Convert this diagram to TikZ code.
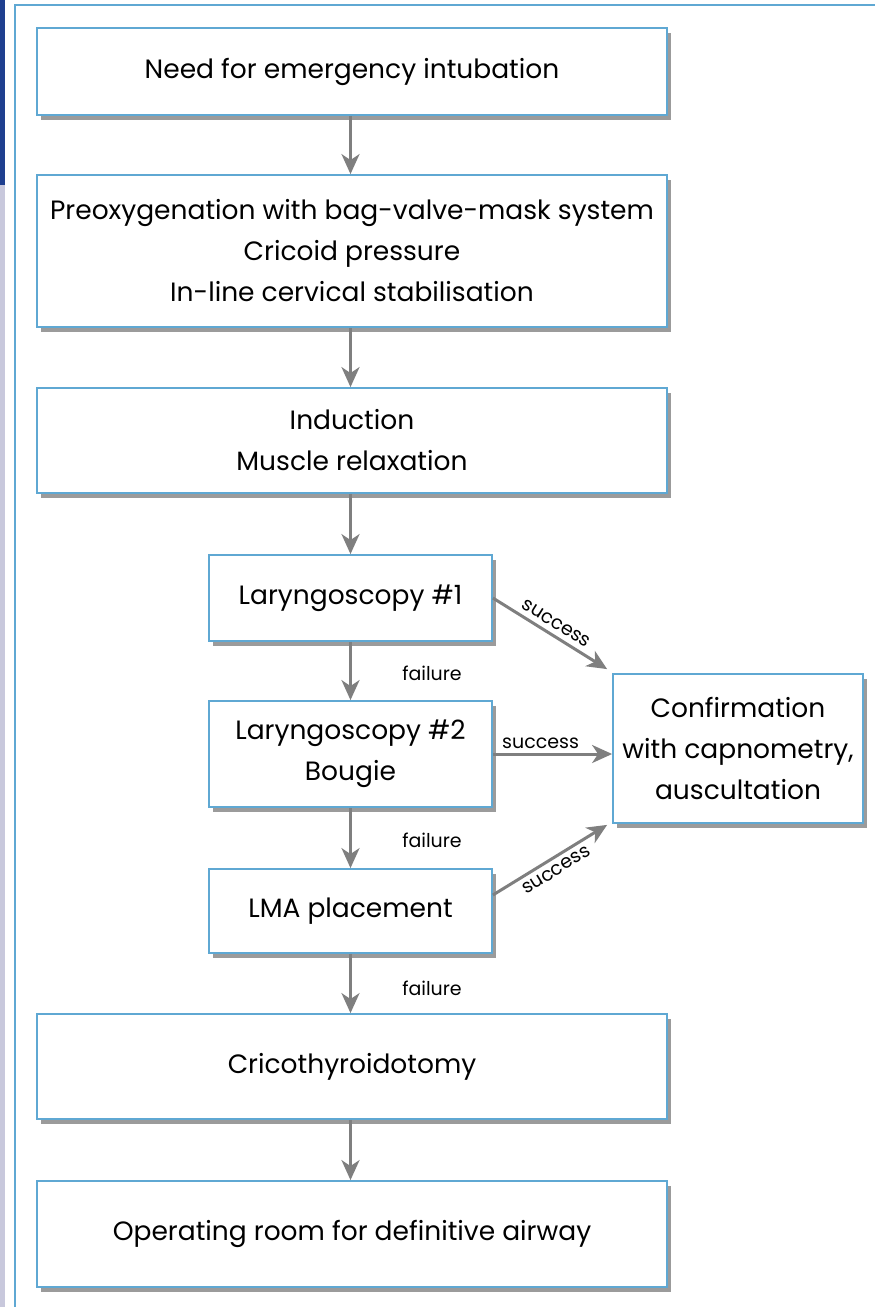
\documentclass[tikz,border=0pt]{standalone}
\usepackage{fontspec}
\setmainfont{Poppins}
\usetikzlibrary{arrows.meta,shadows}
\definecolor{boxblue}{HTML}{5FA8D3}
\definecolor{arrgray}{HTML}{7F7F7F}
\definecolor{stripblue}{HTML}{1F3F8F}
\definecolor{lav}{HTML}{C8C8DC}
\tikzset{
  box/.style={draw=boxblue, line width=1.8pt, fill=white, align=center, inner sep=0pt,
    drop shadow={shadow xshift=4pt, shadow yshift=-5pt, opacity=0.6, fill=black!65},
    font=\fontsize{26.5}{41}\selectfont},
  flow/.style={draw=arrgray, line width=3pt, -{Stealth[length=20pt,width=18pt,inset=6pt]}},
  lbl/.style={font=\fontsize{19}{21}\selectfont, inner sep=2pt}
}
\begin{document}
\begin{tikzpicture}[x=1pt,y=-1pt]
\useasboundingbox (0,0) rectangle (875,1307);
\fill[stripblue] (0,0) rectangle (5,185);
\fill[lav] (0,185) rectangle (5,1307);
\draw[boxblue, line width=2pt] (15,1307) -- (15,5) -- (875,5);

\node[box, minimum width=630pt, minimum height=87pt] (n1) at (352,71.5) {Need for emergency intubation};
\node[box, minimum width=630pt, minimum height=152pt] (n2) at (352,251) {Preoxygenation with bag-valve-mask system\\Cricoid pressure\\In-line cervical stabilisation};
\node[box, minimum width=630pt, minimum height=105pt] (n3) at (352,440.5) {Induction\\Muscle relaxation};
\node[box, minimum width=283pt, minimum height=86pt] (n4) at (350.5,598) {Laryngoscopy \#1};
\node[box, minimum width=283pt, minimum height=106pt] (n5) at (350.5,754) {Laryngoscopy \#2\\Bougie};
\node[box, minimum width=283pt, minimum height=84pt] (n6) at (350.5,911) {LMA placement};
\node[box, minimum width=630pt, minimum height=105pt] (n7) at (352,1066.5) {Cricothyroidotomy};
\node[box, minimum width=630pt, minimum height=106pt] (n8) at (352,1234) {Operating room for definitive airway};
\node[box, minimum width=250pt, minimum height=149pt] (conf) at (738,748.5) {Confirmation\\with capnometry,\\auscultation};

\draw[flow] (n1.south -| n4) -- (n2.north -| n4);
\draw[flow] (n2.south -| n4) -- (n3.north -| n4);
\draw[flow] (n3.south -| n4) -- (n4.north);
\draw[flow] (n4.south) -- (n5.north);
\draw[flow] (n5.south) -- (n6.north);
\draw[flow] (n6.south) -- (n7.north -| n6);
\draw[flow] (n7.south -| n4) -- (n8.north -| n4);

\node[lbl] (f1) at (432,673) {failure};
\node[lbl] (f2) at (432,840) {failure};
\node[lbl] (f3) at (432,988) {failure};

\coordinate (t1) at ([xshift=-5pt,yshift=4pt]conf.north west);
\coordinate (t3) at ([xshift=-5pt,yshift=-1pt]conf.south west);
\draw[flow] (n4.east) -- node[lbl, sloped, above=3pt] {success} (t1);
\draw[flow] (n5.east) -- node[lbl, above=2pt, pos=0.4] {success} (n5.east -| conf.west);
\draw[flow] ([yshift=16pt]n6.east) -- node[lbl, sloped, below=3pt] {success} (t3);
\end{tikzpicture}
\end{document}
